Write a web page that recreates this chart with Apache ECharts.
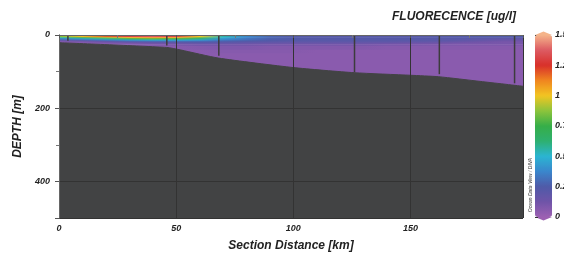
<!DOCTYPE html>
<html>
<head>
<meta charset="utf-8">
<script src="https://cdn.jsdelivr.net/npm/echarts@6/dist/echarts.min.js"></script>
<style>
  html, body { margin: 0; padding: 0; background: #fff; }
  #chart { width: 564px; height: 259px; }
</style>
</head>
<body>
<div id="chart"></div>
<script>
// section grid: distance nodes (km) and depth layer edges (m)
const kmNodes = [0, 10, 20, 30, 40, 50, 60, 70, 80, 90, 100, 110, 120, 130, 140, 150, 160, 170, 180, 190, 200];
const depthEdges = [0, 3, 6, 9, 12, 15, 18, 21, 25, 30, 40, 50, 60, 80, 100, 150];

// fluorescence [ug/l], one row per depth layer, one value per km node
const fluorRows = [
  [1.10, 1.22, 1.32, 1.42, 1.48, 1.45, 1.15, 0.60, 0.35, 0.20, 0.14, 0.12, 0.12, 0.12, 0.14, 0.15, 0.16, 0.18, 0.20, 0.22, 0.22],
  [0.85, 1.02, 1.18, 1.30, 1.36, 1.30, 1.00, 0.55, 0.38, 0.28, 0.23, 0.22, 0.22, 0.22, 0.22, 0.22, 0.22, 0.23, 0.24, 0.24, 0.24],
  [0.55, 0.72, 0.88, 1.00, 1.06, 1.02, 0.80, 0.48, 0.36, 0.28, 0.24, 0.23, 0.23, 0.23, 0.23, 0.23, 0.23, 0.23, 0.23, 0.22, 0.22],
  [0.35, 0.45, 0.58, 0.72, 0.80, 0.76, 0.60, 0.42, 0.33, 0.27, 0.24, 0.23, 0.23, 0.23, 0.23, 0.23, 0.22, 0.22, 0.20, 0.18, 0.18],
  [0.20, 0.28, 0.38, 0.46, 0.52, 0.50, 0.45, 0.35, 0.30, 0.25, 0.23, 0.22, 0.22, 0.22, 0.22, 0.22, 0.21, 0.20, 0.18, 0.15, 0.15],
  [0.10, 0.15, 0.22, 0.30, 0.34, 0.34, 0.33, 0.28, 0.25, 0.23, 0.21, 0.21, 0.21, 0.21, 0.21, 0.20, 0.20, 0.18, 0.15, 0.12, 0.12],
  [0.06, 0.08, 0.12, 0.17, 0.20, 0.22, 0.24, 0.22, 0.20, 0.19, 0.18, 0.18, 0.18, 0.18, 0.18, 0.17, 0.16, 0.14, 0.12, 0.10, 0.10],
  [0.05, 0.05, 0.07, 0.09, 0.12, 0.14, 0.16, 0.16, 0.15, 0.14, 0.14, 0.14, 0.14, 0.14, 0.13, 0.12, 0.12, 0.10, 0.10, 0.10, 0.10],
  [0.05, 0.05, 0.05, 0.06, 0.07, 0.09, 0.11, 0.11, 0.11, 0.10, 0.10, 0.10, 0.10, 0.10, 0.09, 0.09, 0.08, 0.08, 0.08, 0.08, 0.08],
  [0.05, 0.05, 0.05, 0.05, 0.05, 0.06, 0.07, 0.08, 0.08, 0.07, 0.07, 0.07, 0.07, 0.07, 0.06, 0.06, 0.06, 0.06, 0.06, 0.06, 0.06],
  [0.05, 0.05, 0.05, 0.05, 0.05, 0.05, 0.05, 0.06, 0.06, 0.06, 0.06, 0.05, 0.05, 0.05, 0.05, 0.05, 0.05, 0.05, 0.05, 0.05, 0.05],
  [0.05, 0.05, 0.05, 0.05, 0.05, 0.05, 0.05, 0.05, 0.05, 0.05, 0.05, 0.05, 0.05, 0.05, 0.05, 0.05, 0.05, 0.05, 0.05, 0.05, 0.05],
  [0.05, 0.05, 0.05, 0.05, 0.05, 0.05, 0.05, 0.05, 0.05, 0.05, 0.05, 0.05, 0.05, 0.05, 0.05, 0.05, 0.05, 0.05, 0.05, 0.05, 0.05],
  [0.05, 0.05, 0.05, 0.05, 0.05, 0.05, 0.05, 0.05, 0.05, 0.05, 0.05, 0.05, 0.05, 0.05, 0.05, 0.05, 0.05, 0.05, 0.05, 0.05, 0.05],
  [0.05, 0.05, 0.05, 0.05, 0.05, 0.05, 0.05, 0.05, 0.05, 0.05, 0.05, 0.05, 0.05, 0.05, 0.05, 0.05, 0.05, 0.05, 0.05, 0.05, 0.05]
];

// sea floor along the section
const bottomKm = [0, 46, 52, 68, 100, 126, 150, 162, 180, 198];
const bottomDepth = [21, 34, 41, 63, 89, 103, 110, 114, 127, 140];

// stations: distance and cast depth
const stationKm = [3.8, 46, 68.2, 126.1, 162.3, 194.4];
const stationDepth = [16, 29, 57, 102, 107, 132];

// ODV-like palette, 0 .. 1.5
const palette = ['#9c60b2', '#6f54a8', '#4f5aa8', '#3a86cc', '#2bb5d2', '#2eb070', '#36ae48',
                 '#8cc43c', '#f2c522', '#f08520', '#d8302a', '#dc5a62', '#f5b48a'];
const vMin = 0, vMax = 1.5;

function hexRgb(h) {
  return [parseInt(h.slice(1, 3), 16), parseInt(h.slice(3, 5), 16), parseInt(h.slice(5, 7), 16)];
}
function fluorColor(v) {
  let t = Math.max(0, Math.min(1, (v - vMin) / (vMax - vMin))) * (palette.length - 1);
  let i = Math.min(Math.floor(t), palette.length - 2);
  let f = t - i;
  let a = hexRgb(palette[i]), b = hexRgb(palette[i + 1]);
  return 'rgb(' + a.map((c, k) => Math.round(c + (b[k] - c) * f)).join(',') + ')';
}

const font = { fontFamily: 'Liberation Sans', fontStyle: 'italic', fontWeight: 'bold', color: '#222' };

const chart = echarts.init(document.getElementById('chart'), null, { renderer: 'canvas' });

chart.setOption({
  animation: false,
  backgroundColor: '#fff',
  title: {
    text: 'FLUORECENCE [ug/l]',
    left: 392, top: 11, padding: 0,
    textStyle: Object.assign({ fontSize: 12 }, font)
  },
  grid: [
    { left: 59, top: 35, width: 464, height: 183, outerBoundsMode: 'none' },
    { left: 535, top: 35, width: 17, height: 182, outerBoundsMode: 'none' }
  ],
  xAxis: [
    {
      gridIndex: 0, type: 'value', min: 0, max: 198, interval: 50, z: 3,
      name: 'Section Distance [km]', nameLocation: 'middle', nameGap: 22,
      nameTextStyle: Object.assign({ fontSize: 12 }, font),
      axisLine: { show: true, lineStyle: { color: '#555', width: 1 } },
      axisTick: { show: true, length: 3, lineStyle: { color: '#555' } },
      minorTick: { show: true, splitNumber: 2, length: 3, lineStyle: { color: '#777' } },
      axisLabel: Object.assign({ fontSize: 9, margin: 6, showMaxLabel: false }, font),
      splitLine: { show: true, lineStyle: { color: '#333', width: 1 } }
    },
    {
      gridIndex: 0, type: 'value', min: 0, max: 198, position: 'top', z: 3,
      axisLine: { show: true, lineStyle: { color: '#666', width: 1 } },
      axisTick: { show: false }, axisLabel: { show: false }, splitLine: { show: false }
    },
    {
      gridIndex: 1, type: 'value', min: 0, max: 1, show: false
    }
  ],
  yAxis: [
    {
      gridIndex: 0, type: 'value', inverse: true, min: 0, max: 500, interval: 200, z: 3,
      name: 'DEPTH [m]', nameLocation: 'middle', nameGap: 27, nameRotate: 90,
      nameTextStyle: Object.assign({ fontSize: 12 }, font),
      axisLine: { show: true, lineStyle: { color: '#555', width: 1 } },
      axisTick: { show: true, length: 4, lineStyle: { color: '#555' } },
      minorTick: { show: true, splitNumber: 2, length: 3, lineStyle: { color: '#777' } },
      axisLabel: Object.assign({ fontSize: 9, margin: 9, showMaxLabel: false }, font),
      splitLine: { show: true, lineStyle: { color: '#333', width: 1 } }
    },
    {
      gridIndex: 0, type: 'value', inverse: true, min: 0, max: 500, position: 'right', z: 3,
      axisLine: { show: true, lineStyle: { color: '#666', width: 1 } },
      axisTick: { show: false }, axisLabel: { show: false }, splitLine: { show: false }
    },
    {
      gridIndex: 1, type: 'value', min: vMin, max: vMax, interval: 0.25, position: 'right', z: 3,
      axisLine: { show: false },
      axisTick: { show: true, length: 3, lineStyle: { color: '#333' } },
      axisLabel: Object.assign({ fontSize: 9, margin: 3 }, font),
      splitLine: { show: false }
    },
    {
      gridIndex: 1, type: 'value', min: vMin, max: vMax, interval: 0.25, position: 'left', z: 3,
      axisLine: { show: false },
      axisTick: { show: true, inside: true, length: 3, lineStyle: { color: '#333' } },
      axisLabel: { show: false }, splitLine: { show: false }
    }
  ],
  visualMap: {
    type: 'continuous', min: vMin, max: vMax, seriesIndex: 3,
    left: 535, top: 35, itemWidth: 17, itemHeight: 182, padding: 0,
    calculable: false, hoverLink: false, text: null,
    inRange: { color: palette }
  },
  graphic: [
    { type: 'polygon', shape: { points: [[535, 35], [543.5, 31.5], [552, 35]] }, style: { fill: palette[palette.length - 1] } },
    { type: 'polygon', shape: { points: [[535, 217], [543.5, 220.5], [552, 217]] }, style: { fill: palette[0] } },
    {
      type: 'text', x: 531, y: 185, rotation: Math.PI / 2,
      style: { text: 'Ocean Data View / DIVA', font: 'italic 5px Liberation Sans', fill: '#333', align: 'center', verticalAlign: 'middle' }
    }
  ],
  series: [
    {
      // fluorescence field, one gradient strip per depth layer
      type: 'custom', xAxisIndex: 0, yAxisIndex: 0, clip: true, z: 1, silent: true,
      data: fluorRows.map((row, i) => [i]),
      renderItem: function (params, api) {
        const r = api.value(0);
        const p0 = api.coord([kmNodes[0], depthEdges[r]]);
        const p1 = api.coord([kmNodes[kmNodes.length - 1], depthEdges[r + 1]]);
        const span = kmNodes[kmNodes.length - 1] - kmNodes[0];
        const stops = kmNodes.map((k, j) => ({ offset: (k - kmNodes[0]) / span, color: fluorColor(fluorRows[r][j]) }));
        return {
          type: 'rect',
          shape: { x: p0[0], y: p0[1], width: p1[0] - p0[0], height: p1[1] - p0[1] + 0.6 },
          style: { fill: new echarts.graphic.LinearGradient(0, 0, 1, 0, stops) }
        };
      }
    },
    {
      // sea floor
      type: 'line', xAxisIndex: 0, yAxisIndex: 0, z: 2, silent: true,
      data: bottomKm.map((k, i) => [k, bottomDepth[i]]),
      smooth: 0.2, symbol: 'none',
      lineStyle: { color: '#424344', width: 1 },
      areaStyle: { color: '#424344', origin: 'end', opacity: 1 }
    },
    {
      // station casts
      type: 'custom', xAxisIndex: 0, yAxisIndex: 0, z: 3, silent: true,
      data: stationKm.map((k, i) => [k, stationDepth[i]]),
      renderItem: function (params, api) {
        const a = api.coord([api.value(0), 0]);
        const b = api.coord([api.value(0), api.value(1)]);
        return { type: 'line', shape: { x1: a[0], y1: a[1], x2: b[0], y2: b[1] }, style: { stroke: '#3c3c3c', lineWidth: 1.5 } };
      }
    },
    {
      type: 'scatter', xAxisIndex: 2, yAxisIndex: 2, data: [], silent: true
    }
  ]
});
</script>
</body>
</html>
